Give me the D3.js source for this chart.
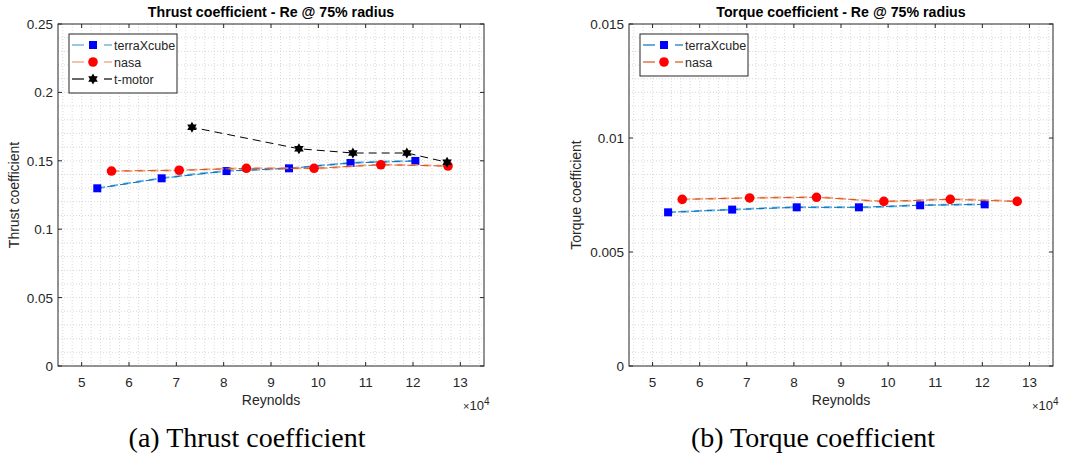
<!DOCTYPE html>
<html>
<head>
<meta charset="utf-8">
<script src="https://cdn.jsdelivr.net/npm/d3@7"></script>
<style>
  html, body { margin: 0; padding: 0; background: #fff; }
  svg { display: block; font-family: "Liberation Sans", Arial, sans-serif; }
</style>
</head>
<body>
<svg id="fig" width="1068" height="461"></svg>
<script>
// Reynolds number at 75% radius and measured coefficients
const reTerra = [53300, 66900, 80600, 93800, 106800, 120500];
const ctTerra = [0.1299, 0.1372, 0.1425, 0.1445, 0.1484, 0.1499];
const cqTerra = [0.00674, 0.00686, 0.00696, 0.00696, 0.00705, 0.00709];

const reNasa = [56300, 70600, 84800, 99100, 113200, 127400];
const ctNasa = [0.1425, 0.1431, 0.1445, 0.1445, 0.1471, 0.1462];
const cqNasa = [0.00731, 0.00737, 0.00740, 0.00722, 0.00731, 0.00722];

const reTmotor = [73300, 95900, 107300, 118700, 127200];
const ctTmotor = [0.1745, 0.1588, 0.1557, 0.1557, 0.1489];

const xTicks = [50000, 60000, 70000, 80000, 90000, 100000, 110000, 120000, 130000];
const ctTicks = [0, 0.05, 0.1, 0.15, 0.2, 0.25];
const cqTicks = [0, 0.005, 0.01, 0.015];
const ctTickLabels = ["0", "0.05", "0.1", "0.15", "0.2", "0.25"];
const cqTickLabels = ["0", "0.005", "0.01", "0.015"];

const svg = d3.select("#fig");
const INK = "#262626";

const seriesStyle = {
  terraXcube: { dark: "#0072BD", light: "#4DA3DA", marker: "square", fill: "#0000FF" },
  nasa:       { dark: "#D95319", light: "#EE9A74", marker: "circle", fill: "#FF0000" },
  "t-motor":  { dark: "#000000", light: null,      marker: "hexagram", fill: "#000000" }
};

function hexagram(R) {
  const r = R / Math.sqrt(3), pts = [];
  for (let i = 0; i < 12; i++) {
    const a = -Math.PI / 2 + i * Math.PI / 6;
    const rad = i % 2 === 0 ? R : r;
    pts.push([rad * Math.cos(a), rad * Math.sin(a)]);
  }
  return "M" + pts.map(p => p.join(",")).join("L") + "Z";
}

function drawMarker(g, kind, fill, cx, cy) {
  if (kind === "square") {
    g.append("rect").attr("x", cx - 4).attr("y", cy - 4).attr("width", 8).attr("height", 8).attr("fill", fill);
  } else if (kind === "circle") {
    g.append("circle").attr("cx", cx).attr("cy", cy).attr("r", 4.8).attr("fill", fill);
  } else {
    g.append("path").attr("d", hexagram(5.5)).attr("transform", `translate(${cx},${cy})`).attr("fill", fill);
  }
}

function panel(opt) {
  const { left, right, top, bottom } = opt;
  const x = d3.scaleLinear().domain([45000, 135000]).range([left, right]);
  const y = d3.scaleLinear().domain(opt.yDomain).range([bottom, top]);
  const g = svg.append("g");

  // minor + major grid, dotted
  const grid = g.append("g").attr("stroke", "#cfcfcf").attr("stroke-width", 0.8).attr("stroke-dasharray", "1,2");
  d3.range(46000, 135000, 2000).forEach(v => {
    grid.append("line").attr("x1", x(v)).attr("x2", x(v)).attr("y1", top).attr("y2", bottom);
  });
  const yStep = opt.yDomain[1] / 25;
  d3.range(1, 25).forEach(i => {
    const v = i * yStep;
    grid.append("line").attr("x1", left).attr("x2", right).attr("y1", y(v)).attr("y2", y(v));
  });

  // series: smooth trend (light) plus point-to-point segments (dark), both dashed
  opt.series.forEach(s => {
    const st = seriesStyle[s.name];
    const pts = s.x.map((v, i) => [x(v), y(s.y[i])]);
    if (st.light) {
      g.append("path").attr("d", d3.line().curve(d3.curveMonotoneX)(pts))
        .attr("fill", "none").attr("stroke", st.light).attr("stroke-width", 2)
        .attr("stroke-dasharray", "8,5").attr("opacity", 0.85);
    }
    g.append("path").attr("d", d3.line()(pts))
      .attr("fill", "none").attr("stroke", st.dark).attr("stroke-width", 1)
      .attr("stroke-dasharray", "8,5").attr("stroke-dashoffset", 3);
    pts.forEach(p => drawMarker(g, st.marker, st.fill, p[0], p[1]));
  });

  // axes box and ticks
  const ax = g.append("g").attr("stroke", INK).attr("stroke-width", 1);
  ax.append("rect").attr("x", left).attr("y", top).attr("width", right - left).attr("height", bottom - top)
    .attr("fill", "none");
  xTicks.forEach(v => {
    ax.append("line").attr("x1", x(v)).attr("x2", x(v)).attr("y1", bottom).attr("y2", bottom - 4);
    ax.append("line").attr("x1", x(v)).attr("x2", x(v)).attr("y1", top).attr("y2", top + 4);
  });
  opt.yTicks.forEach(v => {
    ax.append("line").attr("x1", left).attr("x2", left + 4).attr("y1", y(v)).attr("y2", y(v));
    ax.append("line").attr("x1", right).attr("x2", right - 4).attr("y1", y(v)).attr("y2", y(v));
  });

  const lab = g.append("g").attr("fill", INK).attr("font-size", 13.5);
  xTicks.forEach(v => {
    lab.append("text").attr("x", x(v)).attr("y", bottom + 21).attr("text-anchor", "middle").text(v / 10000);
  });
  opt.yTicks.forEach((v, i) => {
    lab.append("text").attr("x", left - 5).attr("y", y(v) + 5).attr("text-anchor", "end").text(opt.yTickLabels[i]);
  });

  // exponent
  const ex = lab.append("text").attr("x", right - 21).attr("y", bottom + 44).attr("font-size", 13);
  ex.append("tspan").attr("font-size", 11).text("×");
  ex.append("tspan").text("10");
  ex.append("tspan").attr("dy", -5).attr("font-size", 10).text("4");

  lab.append("text").attr("x", (left + right) / 2).attr("y", bottom + 39).attr("text-anchor", "middle")
    .attr("font-size", 14).text("Reynolds");
  lab.append("text").attr("transform", `translate(${opt.yLabelX},${(top + bottom) / 2}) rotate(-90)`)
    .attr("text-anchor", "middle").attr("font-size", 14).text(opt.yLabel);

  g.append("text").attr("x", (left + right) / 2).attr("y", 17).attr("text-anchor", "middle")
    .attr("font-size", 14.2).attr("font-weight", "bold").attr("fill", "#000").text(opt.title);

  // legend
  const lg = g.append("g");
  const lx = left + 11, ly = top + 10, rowH = 17;
  lg.append("rect").attr("x", lx).attr("y", ly).attr("width", 108).attr("height", 8 + opt.series.length * rowH)
    .attr("fill", "#fff").attr("stroke", INK).attr("stroke-width", 1);
  opt.series.forEach((s, i) => {
    const st = seriesStyle[s.name];
    const cy = ly + 11 + i * rowH;
    const col = st.light && opt.lightLegend ? st.light : st.dark;
    lg.append("line").attr("x1", lx + 3).attr("x2", lx + 15).attr("y1", cy).attr("y2", cy)
      .attr("stroke", col).attr("stroke-width", 1.2);
    lg.append("line").attr("x1", lx + 35).attr("x2", lx + 43).attr("y1", cy).attr("y2", cy)
      .attr("stroke", col).attr("stroke-width", 1.2);
    drawMarker(lg, st.marker, st.fill, lx + 24, cy);
    lg.append("text").attr("x", lx + 45).attr("y", cy + 4.5).attr("font-size", 12.5).attr("fill", INK).text(s.name);
  });

  svg.append("text").attr("x", opt.captionX).attr("y", 447).attr("text-anchor", "middle")
    .style("font-family", "'Liberation Serif', 'DejaVu Serif', serif").attr("font-size", 28)
    .attr("fill", "#000").text(opt.caption);
}

panel({
  left: 58, right: 484, top: 24, bottom: 366,
  yDomain: [0, 0.25], yTicks: ctTicks, yTickLabels: ctTickLabels,
  yLabel: "Thrust coefficient", yLabelX: 19,
  title: "Thrust coefficient - Re @ 75% radius",
  lightLegend: true,
  series: [
    { name: "terraXcube", x: reTerra, y: ctTerra },
    { name: "nasa", x: reNasa, y: ctNasa },
    { name: "t-motor", x: reTmotor, y: ctTmotor }
  ],
  caption: "(a) Thrust coefficient", captionX: 247
});

panel({
  left: 629, right: 1053, top: 24, bottom: 366,
  yDomain: [0, 0.015], yTicks: cqTicks, yTickLabels: cqTickLabels,
  yLabel: "Torque coefficient", yLabelX: 581,
  title: "Torque coefficient - Re @ 75% radius",
  lightLegend: false,
  series: [
    { name: "terraXcube", x: reTerra, y: cqTerra },
    { name: "nasa", x: reNasa, y: cqNasa }
  ],
  caption: "(b) Torque coefficient", captionX: 813
});
</script>
</body>
</html>
